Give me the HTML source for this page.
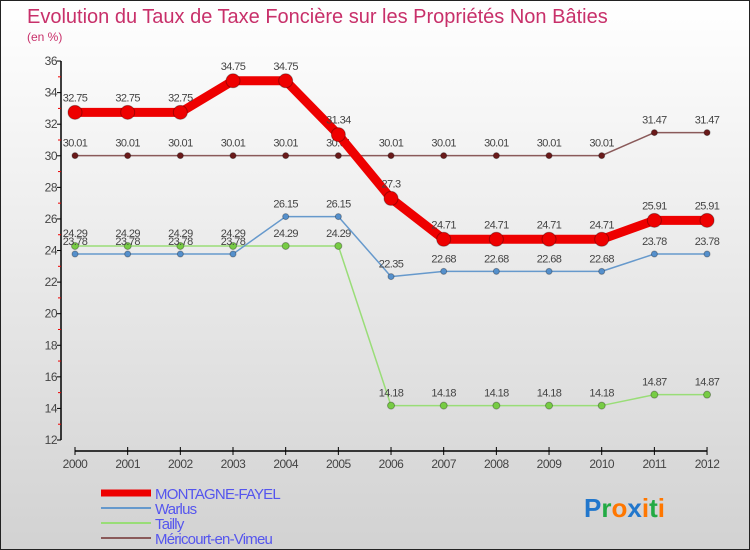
<!DOCTYPE html>
<html><head><meta charset="utf-8"><style>
body{margin:0}
#wrap{width:748px;height:548px;border:1px solid #222;background:linear-gradient(#ffffff,#f2f2f2 30%,#d2d2d2);position:relative;overflow:hidden;font-family:"Liberation Sans",sans-serif}
</style></head><body>
<div id="wrap">
<svg id="c" width="748" height="548"></svg>
</div>
<script>
const years=[2000,2001,2002,2003,2004,2005,2006,2007,2008,2009,2010,2011,2012];
const montagne=[32.75,32.75,32.75,34.75,34.75,31.34,27.3,24.71,24.71,24.71,24.71,25.91,25.91];
const warlus=[23.78,23.78,23.78,23.78,26.15,26.15,22.35,22.68,22.68,22.68,22.68,23.78,23.78];
const tailly=[24.29,24.29,24.29,24.29,24.29,24.29,14.18,14.18,14.18,14.18,14.18,14.87,14.87];
const mericourt=[30.01,30.01,30.01,30.01,30.01,30.01,30.01,30.01,30.01,30.01,30.01,31.47,31.47];
const yTicks=[12,14,16,18,20,22,24,26,28,30,32,34,36];
const NS='http://www.w3.org/2000/svg';
const svg=document.getElementById('c');
const X=i=>74+i*52.67;
const Y=v=>439-(v-12)*15.79;
function mk(t,a,p){const e=document.createElementNS(NS,t);for(const k in a)e.setAttribute(k,a[k]);(p||svg).appendChild(e);return e;}
let t=mk('text',{x:26,y:22,'font-size':20,fill:'#c8306a'});t.textContent='Evolution du Taux de Taxe Foncière sur les Propriétés Non Bâties';

t=mk('text',{x:26,y:40,'font-size':12,fill:'#c8306a'});t.textContent='(en %)';

let a=mk('line',{x1:60,y1:Y(36),x2:60,y2:Y(12),stroke:'#000','stroke-width':1.5});

a=mk('line',{x1:74,y1:450,x2:706,y2:450,stroke:'#000','stroke-width':1.5});

yTicks.forEach(v=>{
 mk('line',{x1:56,y1:Y(v),x2:60,y2:Y(v),stroke:'#000'});
 if(v<36)mk('line',{x1:57,y1:Y(v+1),x2:60,y2:Y(v+1),stroke:'#e00'});
 const l=mk('text',{x:56,y:Y(v)+4,'font-size':12,fill:'#444','text-anchor':'end','letter-spacing':'-0.5'});l.textContent=v;
 
});
years.forEach((yr,i)=>{
 mk('line',{x1:X(i),y1:446,x2:X(i),y2:454,stroke:'#000'});
 const l=mk('text',{x:X(i),y:467,'font-size':12,fill:'#444','text-anchor':'middle','letter-spacing':'-0.5'});l.textContent=yr;
 
});
function series(d,col,w,r,name,dot){
 const g=mk('g',{});
 mk('polyline',{points:d.map((v,i)=>X(i)+','+Y(v)).join(' '),fill:'none',stroke:col,'stroke-width':w,'stroke-linejoin':'round'},g);
 d.forEach((v,i)=>{
  const c=mk('circle',{cx:X(i),cy:Y(v),r:r,fill:dot,stroke:'rgba(0,0,0,0.3)'},g);
  
  const l=mk('text',{x:X(i),y:Y(v)-9-(r>5?2:0),'font-size':11,fill:'#444','text-anchor':'middle','letter-spacing':'-0.6'},g);l.textContent=v;
 });
}
series(mericourt,'#8a5a5a',1.5,3,'series-mericourt','#6a1a1a');
series(tailly,'#99dd77',1.5,3.5,'series-tailly','#77cc44');
series(warlus,'#6699cc',1.5,3,'series-warlus','#5590cc');
series(montagne,'#ee0000',9,7,'series-montagne-fayel','#ee0000');
const legend=[['MONTAGNE-FAYEL','#ee0000',7],['Warlus','#6699cc',2],['Tailly','#99dd77',2],['Méricourt-en-Vimeu','#8a5a5a',2]];
legend.forEach((e,i)=>{
 const y=492+i*15;
 const g=mk('g',{});
 mk('line',{x1:100,y1:y,x2:150,y2:y,stroke:e[1],'stroke-width':e[2]},g);
 const l=mk('text',{x:154,y:y+6,'font-size':15,fill:'#5555ee','letter-spacing':'-0.8'},g);l.textContent=e[0];
});
const p=mk('text',{x:583,y:516,'font-size':26,'font-weight':'bold'});

[['P','#2277cc'],['r','#22aa44'],['o','#ff7700'],['x','#2277cc'],['i','#ff7700'],['t','#22aa44'],['i','#ff7700']].forEach(([c,f])=>{const s=mk('tspan',{fill:f},p);s.textContent=c;});
</script>
</body></html>
